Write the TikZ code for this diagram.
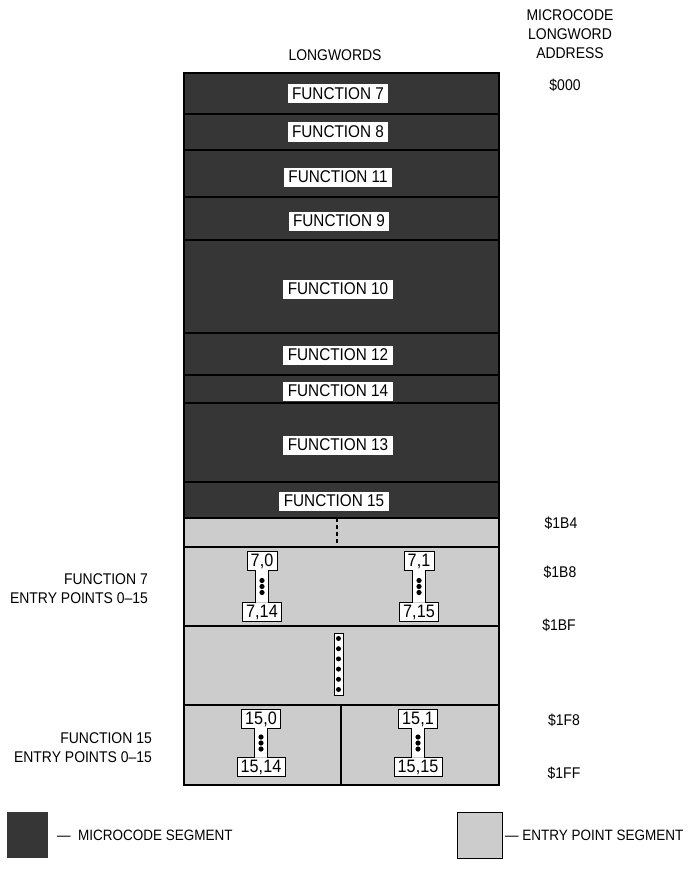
\documentclass[tikz,border=0pt]{standalone}
\usepackage{fontspec}
\setmainfont[FakeStretch=0.9]{Liberation Sans}
\usetikzlibrary{calc}
\definecolor{darkseg}{gray}{0.21}
\definecolor{lightseg}{gray}{0.80}
\newcommand{\entryshape}[6]{%
  \node[ebox] (#1t) at (#2,#3) {#5};
  \node[ebox] (#1b) at (#2,#4) {#6};
  \fill[white] ($(#1t.south)+(-6.5,0)$) rectangle ($(#1b.north)+(6.5,0)$);
  \draw[line width=0.9pt] (#1t.north west) -- (#1t.north east) -- (#1t.south east)
    -- ($(#1t.south)+(6.5,0)$) -- ($(#1b.north)+(6.5,0)$) -- (#1b.north east)
    -- (#1b.south east) -- (#1b.south west) -- (#1b.north west)
    -- ($(#1b.north)+(-6.5,0)$) -- ($(#1t.south)+(-6.5,0)$) -- (#1t.south west) -- cycle;
  \foreach \d in {-6,0,6} \fill ($(#1t.south)!0.5!(#1b.north)+(0,\d)$) circle (2.6);
}
\begin{document}
\begin{tikzpicture}[x=1pt,y=-1pt,
  txt/.style={font=\fontsize{15.5}{19}\selectfont, inner sep=0pt},
  legtxt/.style={font=\fontsize{15}{18}\selectfont, inner sep=0pt},
  fnbox/.style={fill=white, font=\fontsize{17}{18}\selectfont, inner xsep=4.5pt, inner ysep=1pt, minimum height=19pt},
  ebox/.style={fill=white, font=\fontsize{18}{19}\selectfont, inner xsep=3.5pt, inner ysep=1pt, minimum height=19pt},
  rowline/.style={line width=1.6pt},
  border/.style={line width=2pt}]
\useasboundingbox (0,0) rectangle (689,880);
% segments
\fill[darkseg] (184,73) rectangle (499,518);
\fill[lightseg] (184,518) rectangle (499,785);
\foreach \yy in {114,150,197,240,333,375,403,482}
  \draw[rowline] (184,\yy) -- (499,\yy);
\foreach \yy in {518,547,626,705}
  \draw[rowline] (184,\yy) -- (499,\yy);
\draw[rowline] (341,705) -- (341,785);
\draw[border] (184,73) rectangle (499,785);
\draw[line width=1.5pt, dash pattern=on 4pt off 3pt] (337,518) -- (337,547);
% function labels
\node[fnbox] (f7)  at (338,94)  {FUNCTION 7};
\node[fnbox] (f8)  at (338,132) {FUNCTION 8};
\node[fnbox] (f11) at (338,177) {FUNCTION 11};
\node[fnbox] (f9)  at (339,221) {FUNCTION 9};
\node[fnbox] (f10) at (338,289) {FUNCTION 10};
\node[fnbox] (f12) at (338,355) {FUNCTION 12};
\node[fnbox] (f14) at (338,391) {FUNCTION 14};
\node[fnbox] (f13) at (338,445) {FUNCTION 13};
\node[fnbox] (f15) at (334,501) {FUNCTION 15};
% entry point shapes
\entryshape{ea}{262}{561}{612}{7,0}{7,14}
\entryshape{eb}{419}{561}{612}{7,1}{7,15}
\entryshape{ec}{261}{719}{767}{15,0}{15,14}
\entryshape{ed}{418}{719}{767}{15,1}{15,15}
% middle dotted column
\filldraw[fill=white, line width=0.9pt] (334,633) rectangle (343,695);
\foreach \k in {0,...,5} \fill (338.5,638.5+\k*10.2) circle (2.5);
% headings
\node[txt] (hlong) at (335,55) {LONGWORDS};
\node[txt, align=center] (haddr) at (570,34) {MICROCODE\\LONGWORD\\ADDRESS};
% addresses
\node[txt] (a000) at (565,85) {\$000};
\node[txt] (a1b4) at (561,523) {\$1B4};
\node[txt] (a1b8) at (560,572) {\$1B8};
\node[txt] (a1bf) at (559,625) {\$1BF};
\node[txt] (a1f8) at (564,720) {\$1F8};
\node[txt] (a1ff) at (564,773) {\$1FF};
% left labels
\node[txt, align=right, anchor=east] (l7) at (148,588.5) {FUNCTION 7\\ENTRY POINTS 0–15};
\node[txt, align=right, anchor=east] (l15) at (152,748) {FUNCTION 15\\ENTRY POINTS 0–15};
% legend
\fill[darkseg] (7,812) rectangle (48,858);
\node[legtxt, anchor=west] (legd) at (57,835) {—\ \ MICROCODE SEGMENT};
\filldraw[fill=lightseg, line width=0.8pt] (457,812) rectangle (502,858);
\node[legtxt, anchor=west] (legl) at (505,835) {— ENTRY POINT SEGMENT};
\end{tikzpicture}
\end{document}
